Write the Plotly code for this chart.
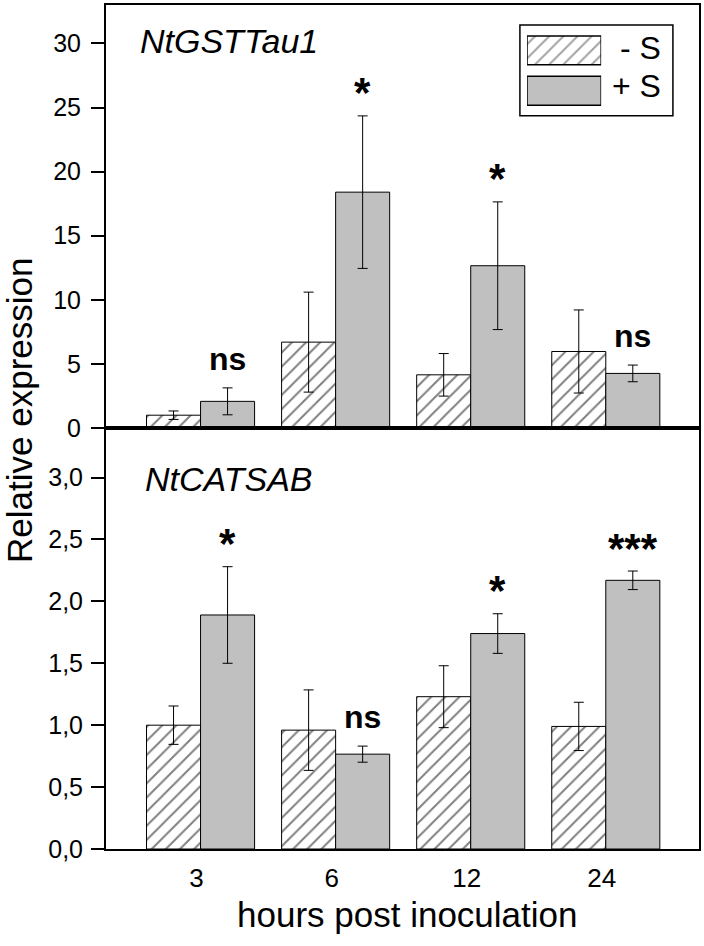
import plotly.graph_objects as go

# ---- data ----
hours = ["3", "6", "12", "24"]
series = ["- S", "+ S"]

gst_minus = [1.0, 6.7, 4.15, 5.97]
gst_minus_err = [0.33, 3.9, 1.66, 3.24]
gst_plus = [2.08, 18.4, 12.66, 4.26]
gst_plus_err = [1.05, 5.95, 4.98, 0.65]
gst_sig = ["ns", "*", "*", "ns"]

cat_minus = [1.0, 0.96, 1.23, 0.99]
cat_minus_err = [0.155, 0.325, 0.25, 0.195]
cat_plus = [1.89, 0.766, 1.74, 2.17]
cat_plus_err = [0.39, 0.065, 0.16, 0.075]
cat_sig = ["*", "ns", "*", "***"]

top_ticks = [0, 5, 10, 15, 20, 25, 30]
bottom_ticks = [0, 0.5, 1.0, 1.5, 2.0, 2.5, 3.0]

FONT = "Arial, 'Liberation Sans', sans-serif"
GREY = "#c0c0c0"
HATCH = dict(fgcolor="black", size=10, solidity=0.2)

fig = go.Figure()


def err(arr):
    return dict(type="data", array=arr, color="black", thickness=1, width=5)


def minus_marker():
    return dict(color="white", line=dict(color="black", width=1),
                pattern=dict(shape="/", **HATCH))


def plus_marker():
    return dict(color=GREY, line=dict(color="black", width=1))


for (mn, mne, pl, ple, xa, ya) in [
    (gst_minus, gst_minus_err, gst_plus, gst_plus_err, "x", "y"),
    (cat_minus, cat_minus_err, cat_plus, cat_plus_err, "x2", "y2"),
]:
    fig.add_trace(go.Bar(x=hours, y=mn, name=series[0], marker=minus_marker(),
                         error_y=err(mne), xaxis=xa, yaxis=ya, showlegend=False))
    fig.add_trace(go.Bar(x=hours, y=pl, name=series[1], marker=plus_marker(),
                         error_y=err(ple), xaxis=xa, yaxis=ya, showlegend=False))

# legend inset (drawn as bars so the swatches are large)
fig.add_trace(go.Bar(
    x=[1, 1], y=series, orientation="h", width=0.716,
    marker=dict(color=["white", GREY], line=dict(color="black", width=1.5),
                pattern=dict(shape=["/", ""], **HATCH)),
    xaxis="x3", yaxis="y3", showlegend=False, hoverinfo="skip"))

annotations = []
# significance labels
for sigs, vals, errs, xr, yr in [
    (gst_sig, gst_plus, gst_plus_err, "x", "y"),
    (cat_sig, cat_plus, cat_plus_err, "x2", "y2"),
]:
    for i, (s, v, e) in enumerate(zip(sigs, vals, errs)):
        is_ns = s == "ns"
        annotations.append(dict(
            x=i + 0.2, y=v + e, xref=xr, yref=yr, text=f"<b>{s}</b>",
            showarrow=False, xanchor="center", yanchor="middle",
            yshift=29 if is_ns else 23,
            font=dict(size=32 if is_ns else 42, color="black", family=FONT)))

# gene names
annotations.append(dict(x=0.054, y=0.9573, xref="paper", yref="paper",
                        text="<i>NtGSTTau1</i>", showarrow=False,
                        xanchor="left", yanchor="middle",
                        font=dict(size=34, color="black", family=FONT)))
annotations.append(dict(x=0.0624, y=0.438, xref="paper", yref="paper",
                        text="<i>NtCATSAB</i>", showarrow=False,
                        xanchor="left", yanchor="middle",
                        font=dict(size=34, color="black", family=FONT)))
# axis titles
annotations.append(dict(x=0, y=0.519, xref="paper", yref="paper", xshift=-86,
                        text="Relative expression", textangle=-90, showarrow=False,
                        xanchor="center", yanchor="middle",
                        font=dict(size=35, color="black", family=FONT)))
annotations.append(dict(x=0.5, y=-0.078, xref="paper", yref="paper", xshift=5,
                        text="hours post inoculation", showarrow=False,
                        xanchor="center", yanchor="middle",
                        font=dict(size=35, color="black", family=FONT)))
# legend labels
for s, xp, yp in zip(series, [0.864, 0.850], [0.9492, 0.9037]):
    annotations.append(dict(x=xp, y=yp, xref="paper", yref="paper",
                            text=s, showarrow=False, xanchor="left", yanchor="middle",
                            font=dict(size=32, color="black", family=FONT)))

shapes = [dict(type="rect", xref="paper", yref="paper", x0=0.698, x1=0.956,
               y0=0.8688, y1=0.9764, line=dict(color="black", width=1.5),
               fillcolor="rgba(0,0,0,0)", layer="below")]

axis_common = dict(showline=True, linecolor="black", linewidth=2, mirror=True,
                   showgrid=False, zeroline=False)

fig.update_layout(
    width=704, height=946,
    margin=dict(l=106, r=5, t=3, b=97),
    paper_bgcolor="white", plot_bgcolor="rgba(0,0,0,0)",
    font=dict(family=FONT, color="black"),
    separators=",.",
    barmode="group", bargap=0.2, bargroupgap=0,
    showlegend=False,
    annotations=annotations,
    shapes=shapes,
    xaxis=dict(**axis_common, domain=[0, 1], anchor="y", type="category",
               range=[-0.7, 3.69], showticklabels=False, ticks="", matches="x2"),
    yaxis=dict(**axis_common, domain=[0.4988, 1], anchor="x", range=[0, 33],
               tickvals=top_ticks, ticks="outside", ticklen=13, tickwidth=2,
               tickcolor="black", ticklabelstandoff=5,
               tickfont=dict(size=25, color="black", family=FONT)),
    xaxis2=dict(**axis_common, domain=[0, 1], anchor="y2", type="category",
                range=[-0.7, 3.69], ticks="", ticklabelstandoff=5, ticklabelshift=-4,
                tickfont=dict(size=26, color="black", family=FONT)),
    yaxis2=dict(**axis_common, domain=[0, 0.4988], anchor="x2", range=[0, 3.4],
                tickvals=bottom_ticks, tickformat=".1f", ticks="outside", ticklen=13,
                tickwidth=2, tickcolor="black", ticklabelstandoff=3,
                tickfont=dict(size=25, color="black", family=FONT)),
    xaxis3=dict(domain=[0.710, 0.835], anchor="y3", range=[0, 1], visible=False,
                fixedrange=True),
    yaxis3=dict(domain=[0.8744, 0.9702], anchor="x3", range=[-0.5, 1.5],
                type="category", categoryorder="array",
                categoryarray=[series[1], series[0]], visible=False, fixedrange=True),
)

fig.write_html("out.html", config={"displayModeBar": False},
               post_script="document.body.style.margin='0';document.body.style.overflow='hidden';")
